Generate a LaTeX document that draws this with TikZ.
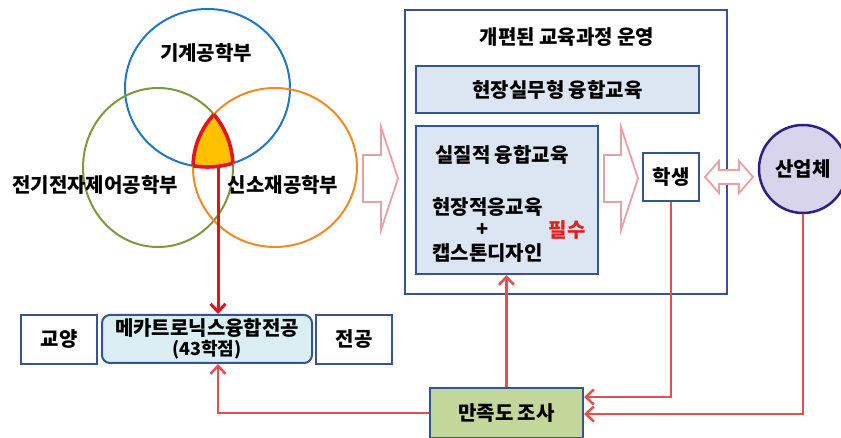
\documentclass[tikz,border=0pt]{standalone}
\usepackage{fontspec}
\setmainfont{Noto Sans CJK KR}
\usetikzlibrary{arrows.meta}
\definecolor{cblue}{RGB}{31,120,192}
\definecolor{cgreen}{RGB}{122,154,60}
\definecolor{corange}{RGB}{240,138,36}
\definecolor{cyellow}{RGB}{255,192,0}
\definecolor{cred}{RGB}{226,20,30}
\definecolor{boxblue}{RGB}{52,85,145}
\definecolor{lblue}{RGB}{220,230,242}
\definecolor{lcyan}{RGB}{219,238,244}
\definecolor{lgreen}{RGB}{196,215,155}
\definecolor{lav}{RGB}{216,212,236}
\definecolor{purp}{RGB}{46,31,134}
\definecolor{connred}{RGB}{227,80,80}
\definecolor{pinkline}{RGB}{230,160,166}
\definecolor{mustred}{RGB}{224,32,32}
\begin{document}
\begin{tikzpicture}[x=1pt,y=-1pt,
  font=\bfseries\fontsize{20}{23}\selectfont,
  bx/.style={draw=boxblue, line width=2pt, fill=white, inner sep=0pt},
  txt/.style={inner sep=0pt},
  conn/.style={draw=connred, line width=2.5pt, -{Straight Barb[length=8pt,width=15pt]}},
  redarr/.style={draw=cred, line width=3pt, -{Straight Barb[length=8pt,width=15pt]}},
  hollow/.style={draw=pinkline, line width=1.8pt, fill=white, line join=miter}]
\useasboundingbox (0,0) rectangle (841,438);
\fill[white] (0,0) rectangle (841,438);

% Venn diagram
\begin{scope}
  \clip (207.5,88) ellipse [x radius=82.5pt, y radius=79pt];
  \clip (158,167.5) ellipse [x radius=75pt, y radius=79.5pt];
  \fill[cyellow] (275,167.5) ellipse [x radius=82pt, y radius=79.5pt];
\end{scope}
\draw[cblue, line width=2pt] (207.5,88) ellipse [x radius=82.5pt, y radius=79pt];
\draw[cgreen, line width=2pt] (158,167.5) ellipse [x radius=75pt, y radius=79.5pt];
\draw[corange, line width=2pt] (275,167.5) ellipse [x radius=82pt, y radius=79.5pt];
\begin{scope}
  \clip (158,167.5) ellipse [x radius=75pt, y radius=79.5pt];
  \clip (275,167.5) ellipse [x radius=82pt, y radius=79.5pt];
  \draw[cred, line width=3.6pt] (207.5,88) ellipse [x radius=82.5pt, y radius=79pt];
\end{scope}
\begin{scope}
  \clip (207.5,88) ellipse [x radius=82.5pt, y radius=79pt];
  \clip (275,167.5) ellipse [x radius=82pt, y radius=79.5pt];
  \draw[cred, line width=3.6pt] (158,167.5) ellipse [x radius=75pt, y radius=79.5pt];
\end{scope}
\begin{scope}
  \clip (207.5,88) ellipse [x radius=82.5pt, y radius=79pt];
  \clip (158,167.5) ellipse [x radius=75pt, y radius=79.5pt];
  \draw[cred, line width=3.6pt] (275,167.5) ellipse [x radius=82pt, y radius=79.5pt];
\end{scope}
\node[txt] (mechdept) at (206,53) {기계공학부};
\node[txt] (elecdept) at (95,185) {전기전자제어공학부};
\node[txt] (matdept) at (283,185) {신소재공학부};

% hollow arrows
\draw[hollow] (363,155) -- (381,155) -- (381,127) -- (398,178.5) -- (381,230) -- (381,202) -- (363,202) -- cycle;

% right block
\node[bx, minimum width=322pt, minimum height=284pt] (outer) at (566,152) {};
\node[txt] (title) at (567,37) {개편된 교육과정 운영};
\node[bx, fill=lblue, minimum width=283pt, minimum height=47pt] (field) at (557.5,89.5) {현장실무형 융합교육};
\node[bx, fill=lblue, minimum width=182pt, minimum height=148pt] (real) at (507,200) {};
\node[txt, anchor=west] (t1) at (435,155) {실질적 융합교육};
\node[txt, anchor=west] (t2) at (432,207) {현장적응교육};
\node[txt] (plus) at (483,230) {+};
\node[txt, anchor=west] (t3) at (432,253) {캡스톤디자인};
\node[txt, text=mustred] (must) at (567,230) {필수};
\draw[hollow] (604,155) -- (621,155) -- (621,127) -- (638,178.5) -- (621,230) -- (621,202) -- (604,202) -- cycle;
\node[bx, minimum width=56pt, minimum height=48pt] (stu) at (671,177) {학생};
\draw[hollow] (705,177) -- (719,161) -- (719,170) -- (739,170) -- (739,161) -- (753,177)
  -- (739,193) -- (739,184) -- (719,184) -- (719,193) -- cycle;
\node[circle, draw=purp, fill=lav, line width=2.5pt, minimum size=88pt, inner sep=0pt] (ind) at (803,169) {산업체};

% bottom row
\node[bx, minimum width=76pt, minimum height=49pt] (gy) at (59,339.5) {교양};
\node[bx, fill=lcyan, rounded corners=8pt, minimum width=210pt, minimum height=48pt, align=center,
  font=\bfseries\fontsize{20}{20}\selectfont] (mech) at (207,339)
  {메카트로닉스융합전공\\{\fontsize{18}{20}\selectfont (43학점)}};
\node[bx, minimum width=76pt, minimum height=49pt] (jg) at (354,339.5) {전공};
\node[bx, fill=lgreen, minimum width=153pt, minimum height=50pt] (sat) at (506.5,413) {만족도 조사};

% connectors
\coordinate (vtip) at (218,166);
\draw[redarr] (vtip) -- (mech.north -| vtip);
\draw[conn] (sat.west) -| (mech.south -| vtip);
\draw[conn] (sat.north) -- (sat.north |- real.south);
\draw[conn] (stu.south) |- ([yshift=16pt]sat.east);
\draw[conn] (ind.south) |- ([yshift=-1pt]sat.east);
\end{tikzpicture}
\end{document}
